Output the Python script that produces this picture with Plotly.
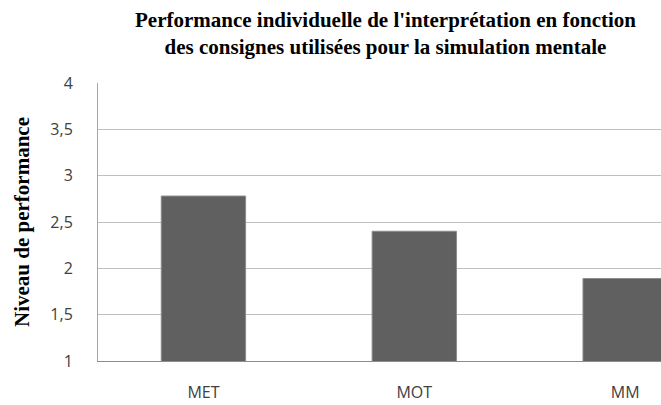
import plotly.graph_objects as go

categories = ["MET", "MOT", "MM"]
values = [2.78, 2.40, 1.89]
tick_vals = [1, 1.5, 2, 2.5, 3, 3.5, 4]
tick_text = ["1", "1,5", "2", "2,5", "3", "3,5", "4"]
title_text = ("Performance individuelle de l'interprétation en fonction<br>"
              "des consignes utilisées pour la simulation mentale")

fig = go.Figure(go.Bar(
    x=categories, y=values, width=0.4,
    marker=dict(color="#606060", line=dict(color="#8c8c8c", width=1)),
))

fig.update_layout(
    width=661, height=405,
    margin=dict(l=98, r=0, t=83, b=44),
    paper_bgcolor="white", plot_bgcolor="white",
    showlegend=False,
)
fig.add_annotation(
    text=title_text, xref="paper", yref="paper",
    x=(385 - 98) / (661 - 98), y=1 + 50 / 278,
    xanchor="center", yanchor="middle", showarrow=False,
    font=dict(family="Liberation Serif", size=21, color="black", weight="bold"),
)
fig.update_xaxes(
    range=[-0.5, 2.17], showgrid=False,
    showline=True, linecolor="#8c8c8c", linewidth=1,
    ticks="", ticklabelstandoff=17,
    tickfont=dict(family="Open Sans", size=16, color="#404040"),
)
fig.update_yaxes(
    range=[1, 4], tickvals=tick_vals, ticktext=tick_text,
    showgrid=True, gridcolor="#bfbfbf", gridwidth=1,
    showline=True, linecolor="#a6a6a6", linewidth=1,
    ticks="", ticklabelstandoff=21,
    tickfont=dict(family="Open Sans", size=16, color="#404040"),
    title=dict(text="Niveau de performance", standoff=15,
               font=dict(family="Liberation Serif", size=21, color="black", weight="bold")),
)

fig.write_html(
    "out.html",
    config={"displayModeBar": False},
    post_script="document.body.style.margin='0';document.body.style.overflow='hidden';",
)
